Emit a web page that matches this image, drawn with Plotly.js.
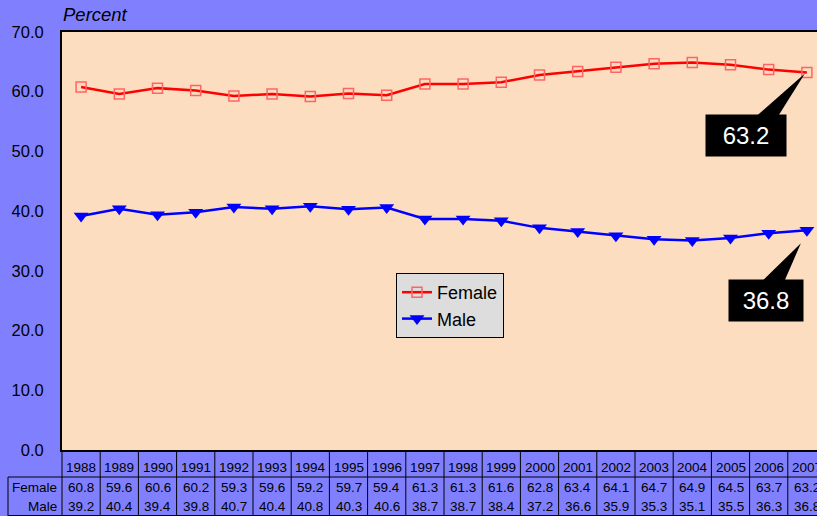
<!DOCTYPE html>
<html>
<head>
<meta charset="utf-8">
<script src="https://cdn.plot.ly/plotly-3.0.1.min.js"></script>
<style>
html, body { margin: 0; padding: 0; overflow: hidden; background: #8080FF; width: 817px; height: 516px; }
#chart { width: 826px; height: 516px; }
</style>
</head>
<body>
<div id="chart"></div>
<script>
var years = ['1988','1989','1990','1991','1992','1993','1994','1995','1996','1997','1998','1999','2000','2001','2002','2003','2004','2005','2006','2007'];
var female = [60.8, 59.6, 60.6, 60.2, 59.3, 59.6, 59.2, 59.7, 59.4, 61.3, 61.3, 61.6, 62.8, 63.4, 64.1, 64.7, 64.9, 64.5, 63.7, 63.2];
var male = [39.2, 40.4, 39.4, 39.8, 40.7, 40.4, 40.8, 40.3, 40.6, 38.7, 38.7, 38.4, 37.2, 36.6, 35.9, 35.3, 35.1, 35.5, 36.3, 36.8];
var yTicks = [0, 10, 20, 30, 40, 50, 60, 70];

var FONT = 'Liberation Sans, Arial, sans-serif';
var W = 826, H = 516;
var mL = 62, mT = 32, mB = 66, mR = 0;
var plotH = H - mT - mB;
function py(pix) { return (H - mB - pix) / plotH; }      // pixel row -> paper y
var plotW = W - mL - mR;
function px(pix) { return (pix - mL) / plotW; }          // pixel col -> paper x

var traces = [
  { x: years, y: female, name: 'Female', type: 'scatter', mode: 'lines+markers',
    line: { color: '#FF0000', width: 2.5 },
    marker: { symbol: 'square-open', size: 10, color: '#FF6464', line: { width: 1.5, color: '#FF6464' } } },
  { x: years, y: male, name: 'Male', type: 'scatter', mode: 'lines+markers',
    line: { color: '#0000FF', width: 2.5 },
    marker: { symbol: 'triangle-down', size: 13, color: '#0000FF' } }
];

var n = years.length;
var shapes = [];
var annotations = [];

// table lines
for (var i = 0; i <= n; i++) {
  shapes.push({ type: 'line', xref: 'paper', yref: 'paper', x0: i / n, x1: i / n,
    y0: 0, y1: py(516), line: { color: '#000000', width: 1 }, layer: 'above' });
}
shapes.push({ type: 'line', xref: 'paper', yref: 'paper', x0: px(8), x1: 1, y0: py(477), y1: py(477), line: { color: '#000000', width: 1 } });
shapes.push({ type: 'line', xref: 'paper', yref: 'paper', x0: px(8), x1: 1, y0: py(515.5), y1: py(515.5), line: { color: '#000000', width: 1 } });
shapes.push({ type: 'line', xref: 'paper', yref: 'paper', x0: px(8), x1: px(8), y0: py(477), y1: py(516), line: { color: '#000000', width: 1 } });

// table text
for (var j = 0; j < n; j++) {
  var cx = (j + 0.5) / n;
  annotations.push({ xref: 'paper', yref: 'paper', x: cx, y: py(467.5), text: years[j], showarrow: false, font: { family: FONT, size: 13.5, color: '#000000' }, xanchor: 'center', yanchor: 'middle' });
  annotations.push({ xref: 'paper', yref: 'paper', x: cx, y: py(487), text: female[j].toFixed(1), showarrow: false, font: { family: FONT, size: 13.5, color: '#000000' }, xanchor: 'center', yanchor: 'middle' });
  annotations.push({ xref: 'paper', yref: 'paper', x: cx, y: py(506.5), text: male[j].toFixed(1), showarrow: false, font: { family: FONT, size: 13.5, color: '#000000' }, xanchor: 'center', yanchor: 'middle' });
}
annotations.push({ xref: 'paper', yref: 'paper', x: px(59), y: py(487), text: 'Female', showarrow: false, font: { family: FONT, size: 13.5, color: '#000000' }, xanchor: 'right', yanchor: 'middle' });
annotations.push({ xref: 'paper', yref: 'paper', x: px(59), y: py(506.5), text: 'Male', showarrow: false, font: { family: FONT, size: 13.5, color: '#000000' }, xanchor: 'right', yanchor: 'middle' });

// axis title "Percent"
annotations.push({ xref: 'paper', yref: 'paper', x: 0, y: 1, yshift: 5, text: '<i>Percent</i>', showarrow: false, font: { family: FONT, size: 18.5, color: '#000000' }, xanchor: 'left', yanchor: 'bottom', xshift: -1 });

// callouts
var last = n - 1;
annotations.push({ x: last, y: female[last], xref: 'x', yref: 'y', text: female[last].toFixed(1),
  showarrow: true, arrowcolor: 'rgba(0,0,0,0)', arrowwidth: 0.1, ax: -61, ay: 63,
  bgcolor: '#000000', width: 80, height: 41, borderpad: 0, font: { family: FONT, size: 24, color: '#FFFFFF' } });
annotations.push({ x: last, y: male[last], xref: 'x', yref: 'y', text: male[last].toFixed(1),
  showarrow: true, arrowcolor: 'rgba(0,0,0,0)', arrowwidth: 0.1, ax: -41, ay: 70,
  bgcolor: '#000000', width: 74, height: 41, borderpad: 0, font: { family: FONT, size: 24, color: '#FFFFFF' } });

shapes.push({ type: 'path', xref: 'x', yref: 'y', xsizemode: 'pixel', ysizemode: 'pixel',
  xanchor: last, yanchor: female[last], path: 'M -2,-1 L -51,-44 L -29,-44 Z',
  fillcolor: '#000000', line: { width: 0 } , layer: 'above'});
shapes.push({ type: 'path', xref: 'x', yref: 'y', xsizemode: 'pixel', ysizemode: 'pixel',
  xanchor: last, yanchor: male[last], path: 'M -6,-13 L -46,-52 L -23,-52 Z',
  fillcolor: '#000000', line: { width: 0 }, layer: 'above' });

var layout = {
  width: W, height: H,
  margin: { l: mL, r: mR, t: mT, b: mB, pad: 0 },
  paper_bgcolor: '#8080FF',
  plot_bgcolor: '#FCDDC0',
  font: { family: FONT, color: '#000000' },
  showlegend: true,
  legend: { x: px(396), y: py(273), xanchor: 'left', yanchor: 'top',
    bgcolor: '#DDDDDD', bordercolor: '#000000', borderwidth: 1,
    font: { family: FONT, size: 18, color: '#000000' }, itemwidth: 30, tracegroupgap: 0 },
  xaxis: { type: 'category', range: [-0.5, n - 0.5], showticklabels: false, ticks: '',
    showgrid: false, zeroline: false, showline: true, linecolor: '#000000', linewidth: 2, mirror: true, fixedrange: true },
  yaxis: { range: [0, 70], tickvals: yTicks, ticktext: yTicks.map(function (v) { return v.toFixed(1); }),
    ticks: '', ticklabelstandoff: 13, showgrid: false, zeroline: false, showline: true, linecolor: '#000000', linewidth: 2, mirror: true,
    tickfont: { family: FONT, size: 16.5, color: '#000000' }, fixedrange: true },
  shapes: shapes,
  annotations: annotations
};

Plotly.newPlot('chart', traces, layout, { displayModeBar: false, staticPlot: true });
</script>
</body>
</html>
